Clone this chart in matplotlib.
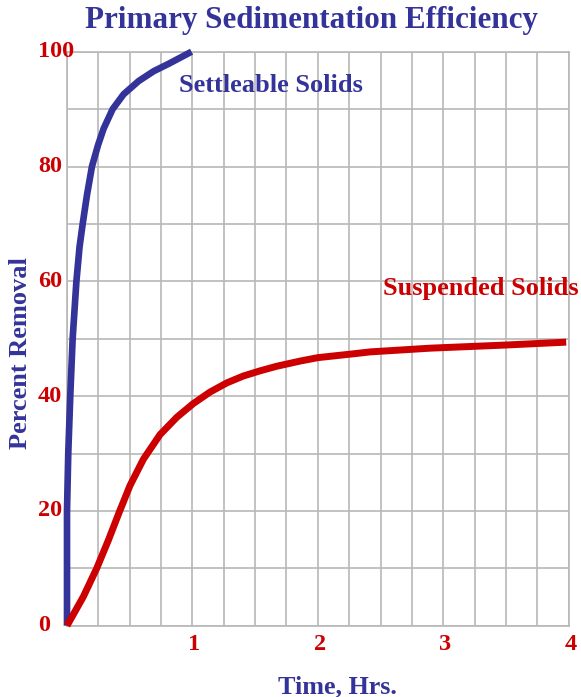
import matplotlib
matplotlib.use("Agg")
import matplotlib.pyplot as plt
import numpy as np

# Data
settle_t = [0.0, 0.0, 0.0, 0.010, 0.026, 0.045, 0.075, 0.100, 0.125, 0.159, 0.199, 0.247,
            0.292, 0.364, 0.452, 0.572, 0.691, 0.811, 0.993]
settle_y = [0.0, 10.0, 20.0, 30.0, 40.0, 50.0, 60.0, 66.0, 70.0, 75.0, 80.0, 83.7,
            86.6, 90.0, 92.6, 94.9, 96.6, 97.9, 100.0]

susp_t = [0.0, 0.13, 0.237, 0.33, 0.417, 0.502, 0.609, 0.742, 0.875, 1.007, 1.140, 1.274,
          1.406, 1.539, 1.672, 1.858, 2.0, 2.297, 2.416, 2.895, 3.5, 3.98]
susp_y = [0.0, 5.05, 10.0, 14.9, 19.8, 24.4, 29.0, 33.3, 36.3, 38.7, 40.7, 42.3,
          43.5, 44.4, 45.2, 46.1, 46.7, 47.4, 47.7, 48.35, 48.9, 49.4]

x_labels = {1: "1", 2: "2", 3: "3", 4: "4"}
y_labels = {0: "0", 20: "20", 40: "40", 60: "60", 80: "80", 100: "100"}

BLUE = "#333399"
RED = "#cc0000"
GRID = "#b8b8b8"
FONT = "Liberation Serif"

W, H = 581, 697
fig = plt.figure(figsize=(W/100, H/100), dpi=100)
ax = fig.add_axes([67/W, 1-625.7/H, (568.7-67)/W, (625.7-51.7)/H])

ax.plot(settle_t, settle_y, color=BLUE, lw=4.8, solid_capstyle="butt", solid_joinstyle="round",
        zorder=3, clip_on=False)
ax.plot(susp_t, susp_y, color=RED, lw=5, solid_capstyle="butt", solid_joinstyle="round",
        zorder=3, clip_on=False)

ax.set_xlim(0, 4)
ax.set_ylim(0, 100)
xt = np.arange(0, 4.001, 0.25)
ax.set_xticks(xt)
ax.set_xticklabels([])
yt = np.arange(0, 100.1, 10)
ax.set_yticks(yt)
ax.set_yticklabels([])
ax.tick_params(length=0)
ax.grid(True, color=GRID, lw=1.2)
for s in ax.spines.values():
    s.set_color(GRID)
    s.set_linewidth(1.2)
ax.set_axisbelow(True)

tick_kw = dict(color=RED, fontfamily=FONT, fontweight="bold", fontsize=17.5)
# y tick labels: left-aligned column
for v, lab in y_labels.items():
    ax.annotate(lab, xy=(0, v), xycoords=("axes fraction", "data"),
                xytext=(38 - 67, 0), textcoords="offset pixels",
                ha="left", va="center", annotation_clip=False, **tick_kw)
# x tick labels
for v, lab in x_labels.items():
    ax.annotate(lab, xy=(v, 0), xycoords=("data", "axes fraction"),
                xytext=(2, -(644 - 625.7)), textcoords="offset pixels",
                ha="center", va="center", annotation_clip=False, **tick_kw)

ax.annotate("Settleable Solids", xy=(179/W, 1-91.7/H), xycoords="figure fraction",
            color=BLUE, fontfamily=FONT, fontweight="bold", fontsize=19, ha="left", va="baseline")
ax.annotate("Suspended Solids", xy=(382.7/W, 1-295/H), xycoords="figure fraction",
            color=RED, fontfamily=FONT, fontweight="bold", fontsize=19, ha="left", va="baseline")

fig.text(311/W, 1-28.3/H, "Primary Sedimentation Efficiency", color=BLUE, fontfamily=FONT,
         fontweight="bold", fontsize=22.4, ha="center", va="baseline")
fig.text(278/W, 1-693/H, "Time, Hrs.", color=BLUE, fontfamily=FONT,
         fontweight="bold", fontsize=18.8, ha="left", va="baseline")
fig.text(21/W, 1-353.5/H, "Percent Removal", color=BLUE, fontfamily=FONT,
         fontweight="bold", fontsize=19, ha="center", va="center", rotation=90)

fig.savefig("out.png", dpi=100)
